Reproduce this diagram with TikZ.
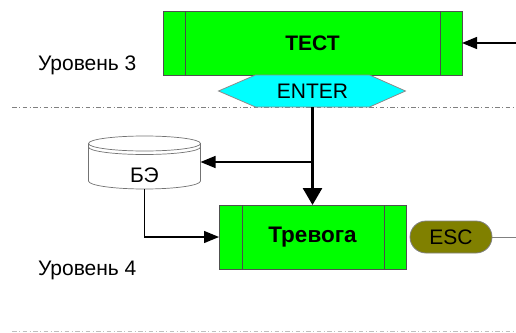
\documentclass[tikz,border=0pt]{standalone}
\usepackage{fontspec}
\setmainfont{Liberation Sans}
\usetikzlibrary{arrows.meta,shapes.misc,calc}

\definecolor{procgreen}{RGB}{0,255,0}
\definecolor{entercyan}{RGB}{0,255,255}
\definecolor{escolive}{RGB}{128,128,0}
\definecolor{edgegray}{RGB}{80,80,80}

\begin{document}
\begin{tikzpicture}[x=1pt,y=-1pt,
  every node/.style={inner sep=0pt, outer sep=0pt, font=\fontsize{21}{25}\selectfont},
  procbox/.style={rectangle, draw=edgegray, fill=procgreen, line width=0.8pt,
    minimum width=#1, minimum height=64pt, font=\bfseries\fontsize{21}{25}\selectfont},
  sidebar/.style={draw=black!70, line width=0.7pt},
  link/.style={draw=black, line width=1.3pt, -{Triangle[length=15pt,width=12pt]}},
  mainlink/.style={draw=black, line width=2.8pt, -{Triangle[length=17pt,width=19pt]}},
  sepline/.style={draw=#1, line width=1pt, dash pattern=on 4.5pt off 2.5pt on 1pt off 2.5pt},
  levellabel/.style={anchor=base west}
]
\useasboundingbox (0,0) rectangle (516,332);

% level separators
\coordinate (sepAL) at (12,107);
\coordinate (sepAR) at (516,107);
\coordinate (sepBL) at (12,331);
\coordinate (sepBR) at (516,331);
\draw[sepline=black!50] (sepAL) -- (sepAR);
\draw[sepline=black!25] (sepBL) -- (sepBR);

% level captions
\node[levellabel] (lvl3) at (38,70) {Уровень 3};
\node[levellabel] (lvl4) at (38,275) {Уровень 4};

% TEST process
\node[procbox=299pt] (test) at (312.5,43) {ТЕСТ};
\draw[sidebar] ($(test.north west)+(22,0)$) -- ($(test.south west)+(22,0)$);
\draw[sidebar] ($(test.north east)+(-22,0)$) -- ($(test.south east)+(-22,0)$);

% ENTER key (hexagon)
\node[minimum width=114pt, minimum height=32pt] (enter) at (312.5,91) {};
\draw[draw=black!45, fill=entercyan, line width=0.8pt]
  ($(enter.west)+(-37,0)$) -- (enter.north west) -- (enter.north east)
  -- ($(enter.east)+(36,0)$) -- (enter.south east) -- (enter.south west) -- cycle;
\node at (enter.center) {ENTER};

% alarm process
\node[procbox=187pt, font=\bfseries\fontsize{22.5}{26}\selectfont] (alarm) at (312.5,237) {Тревога};
\draw[sidebar] ($(alarm.north west)+(23,0)$) -- ($(alarm.south west)+(23,0)$);
\draw[sidebar] ($(alarm.north east)+(-22,0)$) -- ($(alarm.south east)+(-22,0)$);

% data store БЭ (cylinder with double rim)
\node[minimum width=112pt, minimum height=53pt] (cyl) at (144.5,162.5) {};
\begin{scope}[draw=black!55, line width=0.7pt]
  \fill[white] (88.5,143.5) -- (88.5,181) arc[start angle=180, end angle=360, x radius=56, y radius=-8]
    -- (200.5,143.5) arc[start angle=0, end angle=180, x radius=56, y radius=7.5] -- cycle;
  \draw (88.5,143.5) -- (88.5,181) arc[start angle=180, end angle=360, x radius=56, y radius=-8]
    -- (200.5,143.5);
  \draw (144.5,143.5) ellipse[x radius=56, y radius=7.5];
  \draw (88.5,147) arc[start angle=180, end angle=360, x radius=56, y radius=-7.5];
\end{scope}
\node (be) at (144.5,175) {БЭ};

% ESC key
\node[rounded rectangle, draw=black!50, fill=escolive, line width=0.8pt,
  minimum width=82pt, minimum height=32pt] (esc) at (451,237) {ESC};
\coordinate (escout) at (516,237);
\draw[black!50, line width=0.8pt] (esc.east) -- (escout);

% connectors
\coordinate (testin) at (516,43);
\draw[link] (testin) -- (test.east);
\draw[mainlink] (enter.south) -- (alarm.north);
\coordinate (split) at (312.5,162);
\draw[link] (split) -- (split -| cyl.east);
\draw[link] (cyl.south) |- (alarm.west);
\end{tikzpicture}
\end{document}
